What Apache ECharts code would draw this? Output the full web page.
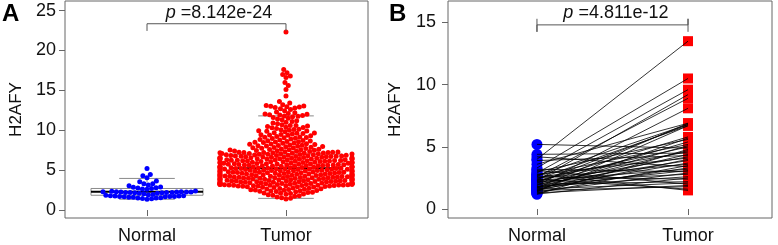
<!DOCTYPE html>
<html>
<head>
<meta charset="utf-8">
<script src="https://cdn.jsdelivr.net/npm/echarts@6/dist/echarts.min.js"></script>
<style>
  html, body { margin: 0; padding: 0; background: #fff; }
  #chart { width: 778px; height: 245px; }
</style>
</head>
<body>
<div id="chart"></div>
<script>
// ---- data ----
const catNames = ['Normal', 'Tumor'];

// panel A: unpaired expression
const normalA = [5.2, 4.45, 4.3, 4.05, 3.65, 3.55, 3.3, 3.3, 3.15, 3.05, 2.9, 2.85, 2.8, 2.75, 2.7, 2.65, 2.6,
  2.4, 2.35, 2.3, 2.3, 2.3, 2.25, 2.25, 2.25, 2.25, 2.2, 2.2, 2.2, 2.2, 2.15, 2.15, 2.1, 2.1, 2.05,
  1.95, 1.9, 1.85, 1.8, 1.8, 1.75, 1.75, 1.7, 1.7, 1.7, 1.65, 1.65, 1.6, 1.6, 1.55, 1.5, 1.5, 1.45, 1.4, 1.35];

const tumorA = [
  1.38, 1.47, 1.55, 1.63, 1.72,
  1.79, 1.86, 1.9, 1.97, 2.01, 2.06, 2.11, 2.14, 2.19, 2.23,
  2.28, 2.31, 2.36, 2.38, 2.42, 2.45, 2.49, 2.52, 2.55, 2.58, 2.61, 2.65, 2.68, 2.71, 2.74,
  2.77, 2.81, 2.85, 2.88, 2.91, 2.93, 2.96, 2.98, 3.0, 3.01, 3.02, 3.04, 3.05, 3.06, 3.08, 3.09, 3.1, 3.12, 3.13, 3.14,
  3.15, 3.17, 3.18, 3.19, 3.2, 3.21, 3.22, 3.23, 3.24, 3.25,
  3.26, 3.27, 3.29, 3.3, 3.31, 3.33, 3.34, 3.35, 3.37, 3.38, 3.4, 3.41, 3.42, 3.44, 3.45, 3.47, 3.48, 3.5, 3.51, 3.52,
  3.54, 3.55, 3.57, 3.58, 3.6, 3.61, 3.63, 3.64, 3.66, 3.67, 3.69, 3.7, 3.72, 3.74,
  3.75, 3.77, 3.78, 3.8, 3.81, 3.83, 3.85, 3.86, 3.88, 3.89, 3.91, 3.92, 3.94, 3.96, 3.97, 3.99, 4.0, 4.02, 4.03, 4.05,
  4.06, 4.08, 4.09, 4.11, 4.12, 4.14, 4.15, 4.17, 4.18, 4.2, 4.21, 4.22, 4.23, 4.24,
  4.26, 4.27, 4.29, 4.31, 4.32, 4.34, 4.35, 4.37, 4.39, 4.4, 4.42, 4.43, 4.45, 4.46, 4.48, 4.5, 4.51, 4.53, 4.54, 4.56,
  4.58, 4.59, 4.61, 4.62, 4.64, 4.66, 4.67, 4.69, 4.7, 4.72, 4.73, 4.74,
  4.76, 4.78, 4.79, 4.81, 4.83, 4.84, 4.86, 4.87, 4.89, 4.91, 4.92, 4.94, 4.95, 4.97, 4.99, 5.0, 5.02, 5.03, 5.05, 5.07,
  5.08, 5.1, 5.11, 5.13, 5.15, 5.16, 5.18, 5.19, 5.21, 5.22, 5.23, 5.24,
  5.26, 5.28, 5.29, 5.31, 5.33, 5.35, 5.36, 5.38, 5.4, 5.42, 5.43, 5.45, 5.47, 5.48, 5.5, 5.52, 5.54, 5.55, 5.57, 5.59,
  5.6, 5.62, 5.64, 5.65, 5.67, 5.69, 5.7, 5.72, 5.73, 5.74,
  5.76, 5.78, 5.8, 5.81, 5.83, 5.85, 5.86, 5.88, 5.9, 5.92, 5.93, 5.95, 5.97, 5.98, 6.0, 6.02, 6.04, 6.05, 6.07, 6.09,
  6.1, 6.12, 6.14, 6.15, 6.17, 6.19, 6.2, 6.22, 6.23, 6.24,
  6.26, 6.28, 6.3, 6.31, 6.33, 6.35, 6.36, 6.38, 6.4, 6.42, 6.43, 6.45, 6.47, 6.48, 6.5, 6.52, 6.54, 6.55, 6.57, 6.59,
  6.6, 6.62, 6.64, 6.65, 6.67, 6.69, 6.7, 6.72, 6.73, 6.74,
  6.76, 6.78, 6.8, 6.82, 6.84, 6.86, 6.88, 6.9, 6.92, 6.94, 6.96, 6.98, 7.0, 7.02, 7.04, 7.06, 7.08, 7.1, 7.12, 7.14,
  7.16, 7.17, 7.19, 7.2, 7.21, 7.22, 7.23, 7.24,
  7.27, 7.3, 7.33, 7.36, 7.39, 7.42, 7.45, 7.48, 7.51, 7.54, 7.57, 7.6, 7.63, 7.66, 7.7, 7.73,
  7.78, 7.81, 7.85, 7.88, 7.92, 7.95, 7.99, 8.02, 8.06, 8.09, 8.13, 8.16, 8.2, 8.23,
  8.28, 8.32, 8.36, 8.41, 8.45, 8.49, 8.53, 8.57, 8.6, 8.64, 8.68, 8.72,
  8.79, 8.84, 8.9, 8.95, 9.0, 9.05, 9.1, 9.12, 9.16, 9.22,
  9.3, 9.36, 9.41, 9.44, 9.47, 9.53, 9.58, 9.62, 9.64, 9.7,
  9.8, 9.87, 9.9, 9.94, 10.0, 10.07, 10.1, 10.14, 10.21,
  10.3, 10.35, 10.38, 10.46, 10.53, 10.58, 10.61, 10.69,
  10.8, 10.9, 11.0, 11.1, 11.2,
  11.3, 11.4, 11.5, 11.6, 11.7,
  11.75, 11.8, 11.85, 11.9, 11.95, 12.0, 12.05, 12.1, 12.2,
  12.3, 12.45, 12.6, 12.7,
  12.8, 12.85, 12.9, 12.95, 13.0, 13.05, 13.1, 13.2,
  13.4, 13.6,
  14.3, 15.1, 15.6, 16.0, 16.6, 16.8, 17.0, 17.2, 17.6, 22.3
];

// box statistics drawn behind the swarms: [lower whisker, Q1, median, Q3, upper whisker]
const boxNormal = [1.35, 1.85, 2.3, 2.7, 3.96];
const boxTumor = [1.46, 3.9, 5.25, 7.0, 11.8];

// panel B: paired samples
const pairNormal = [5.2, 4.4, 4.2, 4.0, 3.9, 3.6, 3.3, 3.2, 3.1, 3.0, 2.9, 2.8, 2.8, 2.7, 2.7, 2.6, 2.6, 2.5, 2.5, 2.4,
  2.4, 2.3, 2.3, 2.3, 2.2, 2.2, 2.1, 2.1, 2.0, 2.0, 1.9, 1.9, 1.8, 1.8, 1.8, 1.7, 1.7, 1.7, 1.6, 1.6,
  1.6, 1.5, 1.5, 1.5, 1.4, 1.4, 1.3, 1.3, 1.2, 1.2];
const pairTumor = [4.9, 4.5, 3.4, 13.5, 4.3, 6.9, 10.5, 3.0, 2.0, 5.6, 9.6, 1.5, 4.1, 6.8, 5.2, 2.4, 8.9, 4.6, 3.6, 6.7,
  1.6, 5.0, 3.2, 9.2, 2.8, 5.8, 4.2, 6.8, 3.9, 2.2, 5.4, 8.1, 3.1, 4.7, 2.6, 6.9, 3.7, 5.1, 2.1, 4.4,
  3.3, 5.7, 1.8, 4.0, 2.9, 6.7, 3.5, 1.9, 2.5, 4.8];

const yTicksA = [0, 5, 10, 15, 20, 25];
const yTicksB = [0, 5, 10, 15];
const pValueA = '8.142e-24';
const pValueB = '4.811e-12';

// ---- layout ----
const FONT = 'Liberation Sans, Arial, sans-serif';
const TXT = '#111';
const AXC = '#666';
const FS = 18;
const gA = { left: 65, top: 1, width: 303, height: 218 };
const gB = { left: 448, top: 1, width: 324, height: 218 };
const xA = [0.41, 2.59], yA = [-1, 26.2];
const xB = [0.411, 2.556], yB = [-0.72, 16.73];

// beeswarm offsets (pixel space), placed in ascending order, closest to centre
function swarm(vals, d, limit, ky) {
  const order = vals.map((v, i) => i).sort((a, b) => vals[a] - vals[b]);
  const placed = [];
  const out = new Array(vals.length);
  let flip = 1;
  for (const idx of order) {
    const y = vals[idx] * ky;
    const nb = placed.filter(p => Math.abs(p.y - y) < d);
    const cand = [0];
    nb.forEach(p => {
      const dx = Math.sqrt(d * d - (p.y - y) * (p.y - y));
      cand.push(p.x + dx, p.x - dx);
    });
    cand.sort((a, b) => (Math.abs(a) - Math.abs(b)) || (flip * (b - a)));
    let best = 0;
    for (const c of cand) {
      if (nb.every(p => (c - p.x) * (c - p.x) + (y - p.y) * (y - p.y) >= d * d - 1e-6)) { best = c; break; }
    }
    best = Math.max(-limit, Math.min(limit, best));
    if (best !== 0) flip = best > 0 ? -1 : 1;
    placed.push({ x: best, y: y });
    out[idx] = best;
  }
  return out;
}

const kxA = gA.width / (xA[1] - xA[0]);
const kyA = gA.height / (yA[1] - yA[0]);
const DOT = 4.6;
const offN = swarm(normalA, DOT, 62, kyA);
const offT = swarm(tumorA, DOT, 66, kyA);
const swarmNormal = normalA.map((v, i) => [1 + offN[i] / kxA, v]);
const swarmTumor = tumorA.map((v, i) => [2 + offT[i] / kxA, v]);

function yAxisCfg(gi, range, ticks, gap, margin) {
  return {
    type: 'value', gridIndex: gi, min: range[0], max: range[1],
    name: 'H2AFY', nameLocation: 'middle', nameGap: gap,
    nameTextStyle: { fontSize: 17, color: TXT, fontFamily: FONT },
    splitLine: { show: false },
    axisLine: { show: false },
    axisTick: { show: true, length: 6, customValues: ticks, lineStyle: { color: AXC } },
    axisLabel: { customValues: ticks, fontSize: FS, color: TXT, fontFamily: FONT, margin: margin }
  };
}
function xAxisCfg(gi, range) {
  return {
    type: 'value', gridIndex: gi, min: range[0], max: range[1],
    splitLine: { show: false },
    axisLine: { show: false },
    axisTick: { show: true, length: 6, customValues: [1, 2], lineStyle: { color: AXC } },
    axisLabel: { customValues: [1, 2], formatter: v => catNames[Math.round(v) - 1],
      fontSize: FS, color: TXT, fontFamily: FONT, margin: 9 }
  };
}

function renderBox(params, api) {
  const x = api.value(0);
  const lo = api.value(1), q1 = api.value(2), med = api.value(3), q3 = api.value(4), hi = api.value(5);
  const hw = 0.403, cw = 0.2;
  const p = (a, b) => api.coord([a, b]);
  const gray = { stroke: '#8a8a8a', lineWidth: 1, fill: null };
  const line = (a, b, st) => ({ type: 'line', shape: { x1: a[0], y1: a[1], x2: b[0], y2: b[1] }, style: st });
  const tl = p(x - hw, q3), br = p(x + hw, q1);
  return {
    type: 'group',
    children: [
      line(p(x, q3), p(x, hi), { stroke: '#8a8a8a', lineWidth: 1, lineDash: [3, 3] }),
      line(p(x, q1), p(x, lo), { stroke: '#8a8a8a', lineWidth: 1, lineDash: [3, 3] }),
      line(p(x - cw, hi), p(x + cw, hi), gray),
      line(p(x - cw, lo), p(x + cw, lo), gray),
      { type: 'rect', shape: { x: tl[0], y: tl[1], width: br[0] - tl[0], height: br[1] - tl[1] }, style: gray },
      line(p(x - hw, med), p(x + hw, med), { stroke: '#000', lineWidth: 2 })
    ]
  };
}

const pText = (x, val) => ({
  type: 'text', x: x, y: 13,
  style: {
    text: '{i|p} =' + val, textAlign: 'center', textVerticalAlign: 'middle',
    font: FS + 'px ' + FONT, fill: TXT,
    rich: { i: { fontStyle: 'italic', fontSize: FS, fontFamily: FONT, fill: TXT } }
  }
});

const chart = echarts.init(document.getElementById('chart'), null, { renderer: 'canvas' });
const option = {
  animation: false,
  backgroundColor: '#fff',
  grid: [
    Object.assign({ show: true, borderColor: AXC, borderWidth: 1, containLabel: false }, gA),
    Object.assign({ show: true, borderColor: AXC, borderWidth: 1, containLabel: false }, gB)
  ],
  xAxis: [xAxisCfg(0, xA), xAxisCfg(1, xB)],
  yAxis: [yAxisCfg(0, yA, yTicksA, 40, 9), yAxisCfg(1, yB, yTicksB, 44, 12)],
  graphic: [
    { type: 'text', left: 2, top: 2, style: { text: 'A', font: 'bold 24px ' + FONT, fill: '#000' } },
    { type: 'text', left: 389, top: 2, style: { text: 'B', font: 'bold 24px ' + FONT, fill: '#000' } },
    pText(219, pValueA),
    pText(616, pValueB)
  ],
  series: [
    { type: 'custom', xAxisIndex: 0, yAxisIndex: 0, renderItem: renderBox, z: 1,
      data: [[1].concat(boxNormal), [2].concat(boxTumor)] },
    { type: 'scatter', xAxisIndex: 0, yAxisIndex: 0, data: swarmNormal, symbolSize: 5, z: 2,
      itemStyle: { color: '#0000ff', opacity: 1 } },
    { type: 'scatter', xAxisIndex: 0, yAxisIndex: 0, data: swarmTumor, symbolSize: 5, z: 2,
      itemStyle: { color: '#ff0000', opacity: 1 } },
    { type: 'line', xAxisIndex: 0, yAxisIndex: 0, symbol: 'none', z: 3,
      lineStyle: { color: '#555', width: 1 },
      data: [[1, 22.45], [1, 23.35], [2, 23.35], [2, 22.45]] },
    // panel B
    { type: 'scatter', xAxisIndex: 1, yAxisIndex: 1, data: pairNormal.map(v => [1, v]),
      symbol: 'circle', symbolSize: 11, z: 2, itemStyle: { color: '#0000ff', opacity: 1 } },
    { type: 'scatter', xAxisIndex: 1, yAxisIndex: 1, data: pairTumor.map(v => [2, v]),
      symbol: 'rect', symbolSize: 10, z: 2, itemStyle: { color: '#ff0000', opacity: 1 } },
    { type: 'lines', coordinateSystem: 'cartesian2d', xAxisIndex: 1, yAxisIndex: 1, z: 3,
      lineStyle: { color: '#000', width: 0.8, opacity: 1 },
      data: pairNormal.map((v, i) => ({ coords: [[1, v], [2, pairTumor[i]]] })) },
    { type: 'line', xAxisIndex: 1, yAxisIndex: 1, symbol: 'none', z: 3,
      lineStyle: { color: '#555', width: 1 },
      data: [[1, 15.3], [1, 14.25], [1, 14.81], [2, 14.81], [2, 15.3], [2, 14.25]] }
  ]
};
chart.setOption(option);
</script>
</body>
</html>
